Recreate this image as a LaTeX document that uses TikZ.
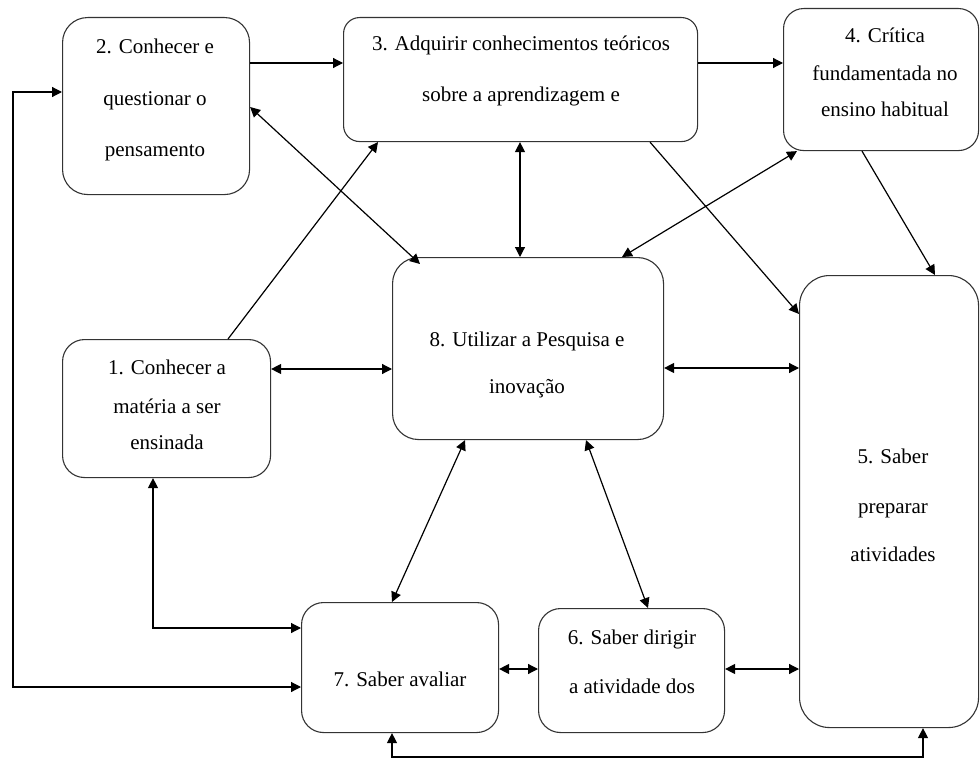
\documentclass[tikz,border=0pt]{standalone}
\usepackage{fontspec}
\setmainfont{Liberation Serif}
\usetikzlibrary{arrows.meta,calc}
\begin{document}
\begin{tikzpicture}[x=1pt,y=-1pt,
  box/.style={draw=black!80, line width=1.1pt, inner sep=0pt, anchor=north west},
  tip/.tip={Triangle[length=10pt,width=10pt]},
  conn/.style={line width=1.2pt, -tip},
  both/.style={line width=1.2pt, tip-tip},
  txt/.style={font=\fontsize{21}{25}\selectfont, anchor=base, inner sep=0pt}]
\useasboundingbox (0,0) rectangle (980,760);
% boxes
\node[box, minimum width=187pt, minimum height=177pt, rounded corners=25pt] (b2) at (62,17) {};
\node[box, minimum width=354pt, minimum height=124pt, rounded corners=16pt] (b3) at (343,17) {};
\node[box, minimum width=195pt, minimum height=142pt, rounded corners=20pt] (b4) at (783,8) {};
\node[box, minimum width=208pt, minimum height=138pt, rounded corners=22pt] (b1) at (62,339) {};
\node[box, minimum width=271pt, minimum height=182pt, rounded corners=26pt] (b8) at (392,257) {};
\node[box, minimum width=179pt, minimum height=452pt, rounded corners=30pt] (b5) at (799,275) {};
\node[box, minimum width=197pt, minimum height=130pt, rounded corners=22pt] (b7) at (301,602) {};
\node[box, minimum width=186pt, minimum height=124pt, rounded corners=22pt] (b6) at (538,608) {};
% texts
\node[txt] (t2a) at (155,54) {2. Conhecer e};
\node[txt] (t2b) at (155,106) {questionar o};
\node[txt] (t2c) at (155,156) {pensamento};
\node[txt] (t3a) at (521,51) {3. Adquirir conhecimentos teóricos};
\node[txt] (t3b) at (521,101) {sobre a aprendizagem e};
\node[txt] (t4a) at (885,43) {4. Crítica};
\node[txt] (t4b) at (885,81) {fundamentada no};
\node[txt] (t4c) at (885,116) {ensino habitual};
\node[txt] (t1a) at (167,374) {1. Conhecer a};
\node[txt] (t1b) at (167,413) {matéria a ser};
\node[txt] (t1c) at (167,449) {ensinada};
\node[txt] (t8a) at (527,346) {8. Utilizar a Pesquisa e};
\node[txt] (t8b) at (527,393) {inovação};
\node[txt] (t5a) at (893,463) {5. Saber};
\node[txt] (t5b) at (893,513) {preparar};
\node[txt] (t5c) at (893,561) {atividades};
\node[txt] (t6a) at (632,644) {6. Saber dirigir};
\node[txt] (t6b) at (632,693) {a atividade dos};
\node[txt] (t7a) at (400,686) {7. Saber avaliar};
% connectors
\draw[conn] (b2.east |- 0,63) -- (b3.west |- 0,63);
\draw[conn] (b3.east |- 0,63) -- (b4.west |- 0,63);
\draw[both] (b7.west |- 0,687) -- (13,687) |- (b2.west |- 0,92);
\draw[both] (153,0 |- b1.south) -- (153,628) -- (b7.west |- 0,628);
\draw[both] (b2.east |- 0,107) -- ($(b8.north west)+(28,7)$);
\draw[conn] (228,0 |- b1.north) -- (378,0 |- b3.south);
\draw[both] (520,0 |- b3.south) -- (520,0 |- b8.north);
\draw[conn] (650,0 |- b3.south) -- (b5.west |- 0,314);
\draw[both] (797,0 |- b4.south) -- (622,0 |- b8.north);
\draw[conn] (862,0 |- b4.south) -- (935,0 |- b5.north);
\draw[both] (b1.east |- 0,369) -- (b8.west |- 0,369);
\draw[both] (b8.east |- 0,368) -- (b5.west |- 0,368);
\draw[both] (465,0 |- b8.south) -- (392,0 |- b7.north);
\draw[both] (586,0 |- b8.south) -- (648,0 |- b6.north);
\draw[both] (b7.east |- 0,669) -- (b6.west |- 0,669);
\draw[both] (b6.east |- 0,669) -- (b5.west |- 0,669);
\draw[both] (392,0 |- b7.south) -- (392,757) -| (923,0 |- b5.south);
\end{tikzpicture}
\end{document}
